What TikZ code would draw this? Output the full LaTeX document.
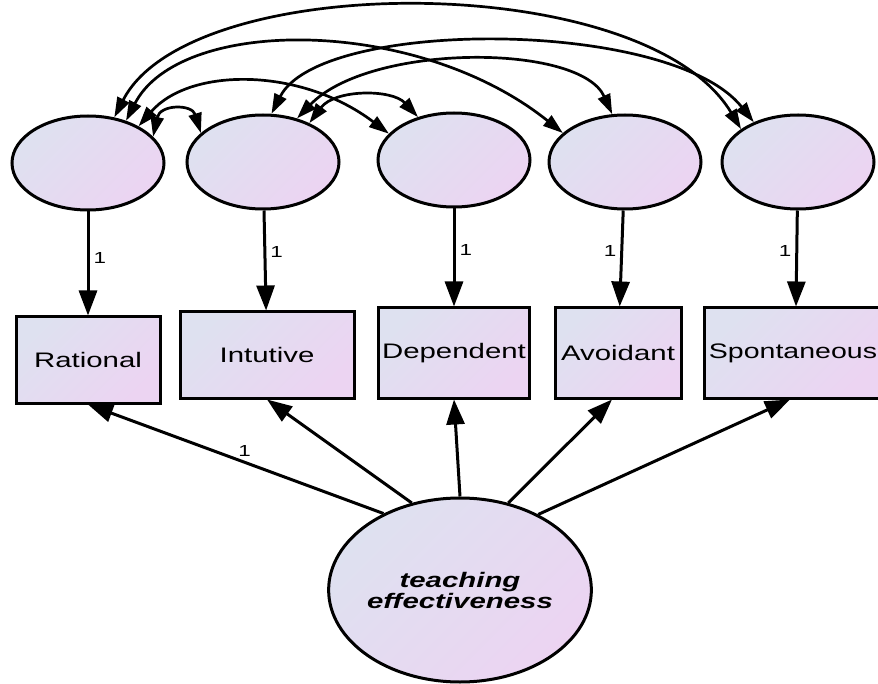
\documentclass[tikz,border=0pt]{standalone}
\usepackage{fontspec}
\setmainfont{Liberation Sans}[FakeStretch=1.4]
\usepackage{xcolor}
\usepackage{tikz}
\usetikzlibrary{arrows.meta,shapes.geometric}
\definecolor{semLight}{RGB}{222,225,240}
\definecolor{semLilac}{RGB}{236,212,242}
\tikzset {
    semfill/.style={top color=semLight, bottom color=semLilac,
        shading angle=45},
    latent/.style={draw, ellipse, semfill, line width=3pt, inner sep=0pt},
    errorterm/.style={latent, minimum width=152pt, minimum height=94pt},
    indicator/.style={draw, semfill, line width=3pt, inner sep=0pt,
        font=\fontsize{21}{24}\selectfont},
    loading/.style={line width=3pt, -{Triangle[length=25pt, width=18pt]}},
    covariance/.style={line width=2.7pt,
        {Triangle[length=20pt, width=13pt]}-{Triangle[length=20pt, width=13pt]}},
    weight/.style={font=\fontsize{16}{18}\selectfont, inner sep=4pt}
}

\begin{document}
\begin{tikzpicture}[x=1pt, y=-1pt]

        \useasboundingbox (0,0) rectangle (878,684);
        \clip (0,0) rectangle (878,684);

        \node[errorterm] (eRational) at (88,163) {};
        \node[errorterm] (eIntutive) at (263,162) {};
        \node[errorterm] (eDependent) at (454,160) {};
        \node[errorterm] (eAvoidant) at (625,162) {};
        \node[errorterm] (eSpontaneous) at (798,162) {};

        \node[indicator, minimum width=144pt, minimum height=86pt] (rational) at (88,360) {Rational};
        \node[indicator, minimum width=174pt, minimum height=86pt] (intutive) at (267,355) {Intutive};
        \node[indicator, minimum width=151pt, minimum height=90pt] (dependent) at (454,353) {Dependent};
        \node[indicator, minimum width=126pt, minimum height=90pt] (avoidant) at (618,353) {Avoidant};
        \node[indicator, minimum width=178pt, minimum height=90pt] (spontaneous) at (793,353)
            {\scalebox{0.97}[1]{Spontaneous}};

        \node[latent, minimum width=226pt, minimum height=184pt, align=center,
            font=\fontsize{21}{21}\selectfont\bfseries\itshape] (teachingEff) at (460,590)
            {teaching\\effectiveness};

        \draw[loading] (eRational) -- node[weight, pos=.45, right] {1} (rational);
        \draw[loading] (eIntutive) -- node[weight, pos=.42, right] {1} (intutive);
        \draw[loading] (eDependent) -- node[weight, pos=.42, right] {1} (dependent);
        \draw[loading] (eAvoidant) -- node[weight, pos=.42, left] {1} (avoidant);
        \draw[loading] (eSpontaneous) -- node[weight, pos=.42, left] {1} ([xshift=3pt]spontaneous.north);

        \draw[loading] (teachingEff.135) -- node[weight, pos=.47, above] {1} (rational.south);
        \draw[loading] (teachingEff.119) -- (intutive.south);
        \draw[loading] (teachingEff.90) -- (dependent.south);
        \draw[loading] (teachingEff.61) -- ([xshift=-6pt]avoidant.south);
        \draw[loading] (teachingEff.44) -- ([xshift=-3pt]spontaneous.south);

        \draw[covariance] (eRational.60) .. controls (190,-31) and (645,-31) .. (eSpontaneous.150);
        \draw[covariance] (eRational.48) .. controls (180,16) and (417,16) .. (eAvoidant.155);
        \draw[covariance] (eRational.36) .. controls (190,67) and (301,67) .. (eDependent.158);
        \draw[covariance] (eRational.22) .. controls (160,104) and (192,104) .. (eIntutive.155);
        \draw[covariance] (eIntutive.80) .. controls (320,18) and (671,18) .. (eSpontaneous.138);
        \draw[covariance] (eIntutive.52) .. controls (370,43) and (580,43) .. (eAvoidant.105);
        \draw[covariance] (eIntutive.40) .. controls (335,89) and (392,89) .. (eDependent.130);

    \end{tikzpicture}
\end{document}
